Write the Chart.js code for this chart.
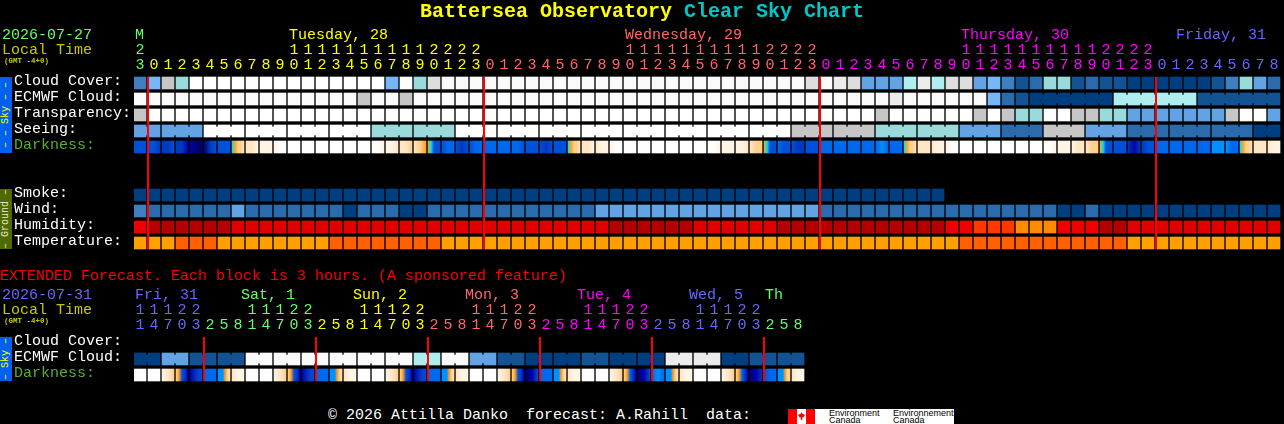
<!DOCTYPE html>
<html lang="en">
<head>
<meta charset="UTF-8">
<title>Battersea Observatory Clear Sky Chart</title>
<script src="https://cdn.jsdelivr.net/npm/chart.js"></script>
<style>
html, body { margin: 0; padding: 0; background: #000; width: 1284px; height: 424px; overflow: hidden; }
body { font-family: "Liberation Mono", monospace; font-size: 15px; color: #fff; position: relative; }
canvas { position: absolute; left: 0; }
#c1 { top: 0; }
#c2 { top: 265px; }
.t { position: absolute; white-space: pre; line-height: 15px; }
.title { left: 420px; top: 0; font-size: 20px; line-height: 24px; font-weight: bold; }
.gmt { font-size: 7.5px; line-height: 8px; font-weight: bold; color: #c8c800; left: 4px; }
.local { left: 2px; color: #c8c800; }
.side { position: absolute; left: 0; width: 12px; writing-mode: vertical-rl; transform: rotate(180deg); font-size: 10px; line-height: 12px; text-align: center; white-space: pre; overflow: hidden; }
.logo { position: absolute; left: 788px; top: 409px; width: 166px; height: 15px; background: #fff; overflow: hidden; color: #000; font-family: "Liberation Sans", sans-serif; font-size: 9px; line-height: 7px; }
.logo div { position: absolute; }
</style>
</head>
<body>
<canvas id="c1" width="1284" height="255"></canvas>
<canvas id="c2" width="1284" height="122"></canvas>

<div class="t title"><span style="color:#ffff00">Battersea Observatory</span> <span style="color:#00c8c8">Clear Sky Chart</span></div>

<div class="t" style="left:2px;top:28px;color:#66ff66">2026-07-27</div>
<div class="t local" style="top:43px">Local Time</div>
<div class="t gmt" style="top:57px">(GMT -4+0)</div>
<div class="t" style="left:135px;top:28px;color:#66ff66">M</div>
<div class="t" style="left:289px;top:28px;color:#ffff00">Tuesday, 28</div>
<div class="t" style="left:625px;top:28px;color:#ff6666">Wednesday, 29</div>
<div class="t" style="left:961px;top:28px;color:#ff00ff">Thursday, 30</div>
<div class="t" style="left:1176px;top:28px;color:#6666ff">Friday, 31</div>

<div class="side" style="top:77px;height:76px;background:#0060f0;color:#ffff00">– – Sky – –</div>
<div class="side" style="top:189px;height:60px;background:#4f6a00;color:#e8e8d0">– Ground –</div>

<div class="t" style="left:0;top:269px;color:#ff0000">EXTENDED Forecast. Each block is 3 hours. (A sponsored feature)</div>

<div class="t" style="left:2px;top:288px;color:#6666ff">2026-07-31</div>
<div class="t local" style="top:303px">Local Time</div>
<div class="t gmt" style="top:317px">(GMT -4+0)</div>
<div class="t" style="left:135px;top:288px;color:#6666ff">Fri, 31</div>
<div class="t" style="left:241px;top:288px;color:#66ff66">Sat, 1</div>
<div class="t" style="left:353px;top:288px;color:#ffff00">Sun, 2</div>
<div class="t" style="left:465px;top:288px;color:#ff6666">Mon, 3</div>
<div class="t" style="left:577px;top:288px;color:#ff00ff">Tue, 4</div>
<div class="t" style="left:689px;top:288px;color:#6666ff">Wed, 5</div>
<div class="t" style="left:765px;top:288px;color:#66ff66">Th</div>

<div class="side" style="top:337px;height:44px;background:#0060f0;color:#ffff00">– Sky –</div>

<div class="t" style="left:328px;top:408px">© 2026 Attilla Danko  forecast: A.Rahill  data:</div>
<div class="logo">
  <div style="left:0;top:0;width:9px;height:15px;background:#f00"></div>
  <div style="left:18px;top:0;width:9px;height:15px;background:#f00"></div>
  <div style="left:10px;top:3px;width:7px;height:8px;background:#f00;clip-path:polygon(50% 0,65% 25%,100% 35%,80% 65%,60% 70%,60% 100%,40% 100%,40% 70%,20% 65%,0 35%,35% 25%)"></div>
  <div style="left:41px;top:1px">Environment</div>
  <div style="left:41px;top:8px">Canada</div>
  <div style="left:105px;top:1px">Environnement</div>
  <div style="left:105px;top:8px">Canada</div>
</div>

<script>
// hour under every block, left to right
const hours = [23,0,1,2,3,4,5,6,7,8,9,10,11,12,13,14,15,16,17,18,19,20,21,22,23,
  0,1,2,3,4,5,6,7,8,9,10,11,12,13,14,15,16,17,18,19,20,21,22,23,
  0,1,2,3,4,5,6,7,8,9,10,11,12,13,14,15,16,17,18,19,20,21,22,23,
  0,1,2,3,4,5,6,7,8];
const extHours = [11,14,17,20,23,2,5,8,11,14,17,20,23,2,5,8,11,14,17,20,23,2,5,8,
  11,14,17,20,23,2,5,8,11,14,17,20,23,2,5,8,11,14,17,20,23,2,5,8];

const rowLabels = ['Cloud Cover:','ECMWF Cloud:','Transparency:','Seeing:','Darkness:','',' ','Smoke:','Wind:','Humidity:','Temperature:'];
const extRowLabels = ['Cloud Cover:','ECMWF Cloud:','Darkness:'];

// sky rows: index into skyColors
const cloudCover = [3,5,8,6,12,12,12,12,12,12,12,12,12,12,12,12,12,12,5,12,6,9,11,11,11,11,11,11,11,11,11,11,11,11,11,11,11,11,11,11,11,11,11,11,11,11,11,11,9,11,10,9,
  4,4,4,7,10,7,9,9,4,5,3,1,2,6,6,1,2,1,1,0,0,0,0,0,0,1,3,6,4,2];
const ecmwf = [11,11,11,11,11,11,11,11,11,11,11,11,11,11,11,11,8,11,11,8,11,11,11,11,11,11,11,11,11,11,11,11,11,11,11,11,11,11,11,11,11,11,11,11,11,11,11,11,11,11,11,11,
  11,11,10,11,11,11,11,11,11,5,2,1,0,0,0,0,0,0,7,7,7,7,7,7,1,1,1,1,1,1];
const transparency = [8,12,12,12,12,12,12,12,12,12,12,12,12,12,12,12,12,12,12,12,12,12,12,12,12,12,12,12,12,12,12,12,12,12,12,12,12,12,12,12,12,12,12,12,12,12,12,12,12,12,12,12,
  12,8,12,12,12,12,12,12,8,12,8,6,6,12,12,8,8,6,6,4,4,4,4,4,4,4,8,12,12,4];
const seeing = [4,4,4,4,4,12,12,12,12,12,12,12,12,12,12,12,12,6,6,6,6,6,6,12,12,12,12,12,12,12,12,12,12,12,12,12,12,12,12,12,12,12,12,12,12,12,12,8,8,8,8,8,
  8,6,6,6,6,6,6,4,4,4,2,2,2,8,8,8,4,4,4,2,2,2,2,2,2,2,2,2,0,0];
// darkness: colour levels read across each block, left to right
const darkness = [[3,3,3],[3,3,2],[2,2,3],[2,2,1],[1,0,0],[0,2,3],[3,3,3],[6,7,8,8,9],[9,9,10],[10,10,10],[10,11,11],
  [11,11,11],[11,11,11],[11,11,11],[11,11,11],[11,11,11],[11,11,11],[11,11,10],[10,10,9],[9,9,8],[9,8,7],
  [7,6,3,3,3],[3,4,4],[3,2,3],[3,4,4],[4,4,4],[4,4,4],[4,4,3],[3,3,3],[3,2,3],[3,3,3],
  [6,7,8,8,9],[9,9,10],[9,10,10],[10,11,11],[11,11,11],[11,11,11],[11,11,11],[11,11,11],[11,11,11],[11,11,11],
  [11,11,10],[10,10,10],[10,10,9],[9,8,8],[7,6,3,3,3],[4,3,3],[3,2,2],[3,3,3],[4,4,4],[4,4,4],[4,4,4],
  [4,4,4],[4,5,4],[4,4,4],[6,7,8,8,9],[9,9,9],[9,10,10],[10,11,11],[11,11,11],[11,11,11],[11,11,11],[11,11,11],[11,11,11],[11,11,11],
  [11,11,10],[10,10,10],[10,9,9],[9,8,8],[7,6,3,3,3],[3,3,3],[2,1,2],[2,3,3],[4,4,4],[4,4,4],[4,4,4],[4,4,4],[5,5,5],[5,4,4],
  [6,7,8,8,9],[9,9,9],[9,10,10]];

const smoke = [0,0,0,0,0,0,0,0,0,0,0,0,0,0,0,0,0,0,0,0,0,0,0,0,0,0,0,0,0,0,0,0,0,0,0,0,0,0,0,0,0,0,0,0,0,0,0,0,0,0,0,0,0,0,0,0,0,0];
const wind = [3,2,2,2,2,2,2,4,2,2,2,2,2,2,2,0,2,2,2,0,0,2,2,2,2,2,2,2,2,2,2,2,2,4,4,4,4,4,4,4,4,4,4,4,4,4,4,4,4,2,2,2,
  2,2,2,2,2,2,2,2,2,2,2,2,2,2,0,0,2,0,0,0,0,0,0,0,0,0,0,0,0,0];
// index into humidityColors / tempColors
const humidity = [0,1,1,1,1,1,1,2,2,2,2,2,2,2,2,2,2,2,2,2,2,2,2,2,2,2,2,2,2,2,2,2,2,2,1,1,1,1,1,1,2,2,2,2,2,2,1,1,1,1,1,1,
  1,1,1,1,1,1,0,0,3,3,3,4,4,4,0,0,0,1,1,2,2,2,2,2,2,2,2,2,2,2];
const temperature = [0,0,0,1,1,1,0,0,0,0,0,0,0,0,1,1,1,1,1,1,1,1,0,0,0,0,0,0,0,0,0,0,0,0,0,0,0,0,0,0,0,0,0,0,0,0,0,0,0,0,0,0,
  0,0,0,0,0,0,0,1,1,1,1,1,1,1,1,1,1,1,1,0,0,0,0,0,0,0,0,0,0,0];

const extEcmwf = [0,0,4,4,1,1,1,1,11,11,11,11,11,11,11,11,11,11,11,11,7,7,11,11,4,4,1,1,0,0,0,0,1,1,0,0,0,0,10,10,10,10,0,0,1,1,1,1];
const extDarkness = [[11,11,11],[11,11,11],[10,9,8],[8,7,3,2,1],[1,2,3],[4,4,4],[5,5,5,7,8,9],[9,10,10],
  [11,11,11],[11,11,11],[10,9,8],[8,7,3,2,1],[1,2,3],[4,4,4],[5,5,5,7,8,9],[9,10,10],
  [11,11,11],[11,11,11],[10,9,8],[8,7,3,2,1],[1,2,3],[4,4,4],[5,5,5,7,8,9],[9,10,10],
  [11,11,11],[11,11,11],[10,9,8],[8,7,3,2,1],[0,1,3],[4,4,4],[5,5,5,7,8,9],[9,10,10],
  [11,11,11],[11,11,11],[10,9,8],[8,7,4,2,1],[0,1,3],[4,5,4],[5,5,5,7,8,9],[9,10,10],
  [11,11,11],[11,11,11],[10,9,8],[8,7,4,2,1],[0,1,2],[3,4,4],[5,5,5,7,8,8],[9,10,10]];

// column where each local midnight starts
const midnights = [1,25,49,73];
const extMidnights = [5,13,21,29,37,45];

// which day every tick belongs to
const dayOf = hours.map((h,i) => i < 1 ? 0 : Math.floor((i-1)/24)+1);
const extDayOf = extHours.map((h,i) => i < 5 ? 0 : Math.floor((i-5)/8)+1);

const skyColors = ['#003f7f','#135393','#2b6bab','#3f7fbf','#63a3e3','#77b7f7','#9adada','#aeeeee','#c6c6c6','#dedede','#ececec','#fafafa','#ffffff'];
const darkColors = ['#000070','#0000a8','#0038c0','#0050d8','#0068ec','#0090ff','#00e0ff','#ffa020','#ffd090','#ffe6c4','#fff4e6','#ffffff'];
const humidityColors = ['#ee0000','#b40000','#e00000','#ff3800','#ff8c00'];
const tempColors = ['#ffa000','#ff6000'];
const dayColors = ['#66ff66','#ffff00','#ff6666','#ff00ff','#6666ff'];
const extDayColors = ['#6666ff','#66ff66','#ffff00','#ff6666','#ff00ff','#6666ff','#66ff66'];

const blockW = 12/14;   // a block is 12px of a 14px step
const font = {family: '"Liberation Mono", monospace', size: 15, lineHeight: '15px'};

function row(label, values, colors) {
  return {
    label: label,
    data: values.map((v,i) => ({x:[i,i+blockW], y:label})),
    backgroundColor: values.map(v => colors[v]),
    barThickness: 12
  };
}

// short joiners between blocks that come from one forecast step
function joiners(label, values, colors, joined) {
  const pts = [], cols = [];
  values.forEach((v,i) => {
    if (i < values.length-1 && joined(i)) {
      pts.push({x:[i+blockW-0.01,i+1.01], y:label});
      cols.push(colors[v]);
    }
  });
  return {label:label+' join', data:pts, backgroundColor:cols, barThickness:8};
}

function gradientRow(label, values, colors) {
  return {
    label: label,
    data: values.map((v,i) => ({x:[i,i+blockW], y:label})),
    barThickness: 12,
    backgroundColor: function(c) {
      const s = c.chart.scales.x, v = values[c.dataIndex];
      if (!s || !v) return colors[0];
      const x0 = s.getPixelForValue(c.dataIndex), x1 = s.getPixelForValue(c.dataIndex+blockW);
      if (!isFinite(x0) || !isFinite(x1)) return colors[v[0]];
      const g = c.chart.ctx.createLinearGradient(x0,0,x1,0);
      v.forEach((lvl,k) => g.addColorStop(k/(v.length-1), colors[lvl]));
      return g;
    }
  };
}

function midnightLines(cols) {
  return {
    id: 'midnightLines',
    afterDatasetsDraw(chart) {
      const x = chart.scales.x, y = chart.scales.y, ctx = chart.ctx;
      const top = y.getPixelForValue(0)-6, bottom = y.getPixelForValue(y.getLabels().length-1)+6;
      ctx.save();
      ctx.fillStyle = '#ff0000';
      cols.forEach(c => ctx.fillRect(x.getPixelForValue(c)-1, top, 2, bottom-top));
      ctx.restore();
    }
  };
}

function makeChart(id, datasets, rows, tickHours, tickColor, nCols, lines, axisH, labelColor) {
  return new Chart(document.getElementById(id), {
    type: 'bar',
    data: {labels: rows, datasets: datasets},
    options: {
      indexAxis: 'y',
      responsive: false,
      animation: false,
      events: [],
      datasets: {bar: {grouped:false, borderWidth:0, borderSkipped:false}},
      layout: {padding: {left:14, right:1284-134-14*nCols, top:0, bottom:4}},
      plugins: {legend:{display:false}, tooltip:{enabled:false}},
      scales: {
        x: {
          type: 'linear', position: 'top', min: 0, max: nCols,
          grid: {display:false, drawTicks:false}, border: {display:false},
          afterBuildTicks(s) { s.ticks = tickHours.map((h,i) => ({value:i+blockW/2})); },
          afterFit(s) { s.height = axisH; s.paddingLeft = 0; s.paddingRight = 0; },
          ticks: {
            autoSkip:false, maxRotation:0, minRotation:0, padding:2.5, font:font,
            callback(v,i) { const h = tickHours[i]; return [h>9 ? String(Math.floor(h/10)) : '', String(h%10)]; },
            color(c) { return tickColor(c.index); }
          }
        },
        y: {
          type: 'category', offset: true,
          grid: {display:false, drawTicks:false}, border: {display:false},
          afterFit(s) { s.width = 120; s.paddingTop = 0; s.paddingBottom = 0; },
          ticks: {
            autoSkip:false, crossAlign:'far', padding:0, labelOffset:-2, font:font,
            color(c) { return labelColor(c.index); }
          }
        }
      }
    },
    plugins: [midnightLines(lines)]
  });
}

makeChart('c1', [
  row('Cloud Cover:', cloudCover, skyColors),
  row('ECMWF Cloud:', ecmwf, skyColors),
  joiners('ECMWF Cloud:', ecmwf, skyColors, i => i >= 64 && (i-64)%6 != 5),
  row('Transparency:', transparency, skyColors),
  row('Seeing:', seeing, skyColors),
  joiners('Seeing:', seeing, skyColors, i => (i+1)%3 != 2),
  gradientRow('Darkness:', darkness, darkColors),
  row('Smoke:', smoke, skyColors),
  row('Wind:', wind, skyColors),
  row('Humidity:', humidity, humidityColors),
  row('Temperature:', temperature, tempColors)
], rowLabels, hours, i => dayColors[dayOf[i]], 82, midnights, 75, i => i == 4 ? '#55b030' : '#ffffff');

makeChart('c2', [
  row('ECMWF Cloud:', extEcmwf, skyColors),
  joiners('ECMWF Cloud:', extEcmwf, skyColors, i => i%2 == 0),
  gradientRow('Darkness:', extDarkness, darkColors)
], extRowLabels, extHours, i => extDayColors[extDayOf[i]], 48, extMidnights, 70, i => i == 2 ? '#55b030' : '#ffffff');
</script>
</body>
</html>
